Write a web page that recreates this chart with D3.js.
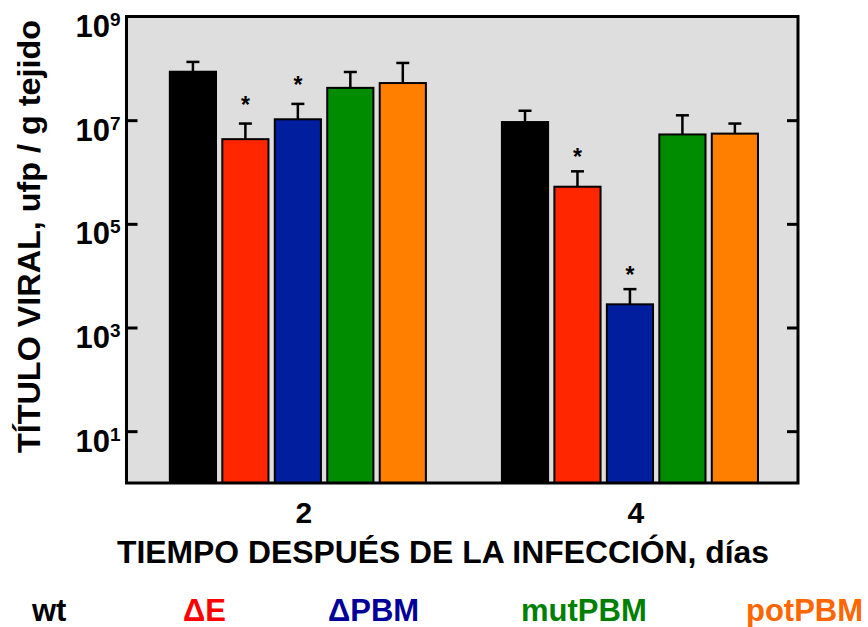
<!DOCTYPE html>
<html>
<head>
<meta charset="utf-8">
<script src="https://cdn.jsdelivr.net/npm/d3@7"></script>
<style>
  html, body { margin: 0; padding: 0; background: #ffffff; }
  svg { display: block; }
  text { font-family: "Liberation Sans", Arial, sans-serif; font-weight: bold; }
</style>
</head>
<body>
<svg id="chart" width="868" height="627"></svg>
<script>
// Days post infection (x groups) and virus strains (bars in each group)
const days = ["2", "4"];
const strains = ["wt", "ΔE", "ΔPBM", "mutPBM", "potPBM"];

// Mean viral titer (pfu / g tissue) per strain
const titerDay2 = [8.6e7, 4.3e6, 1.04e7, 4.2e7, 5.2e7];
const titerDay4 = [9.2e6, 5.2e5, 2.8e3, 5.3e6, 5.5e6];

// Upper error (standard deviation) per strain
const sdDay2 = [4.7e7, 4.3e6, 1.02e7, 4.3e7, 7.5e7];
const sdDay4 = [6.0e6, 5.1e5, 2.7e3, 7.1e6, 3.1e6];

// Significant difference versus wt
const signifDay2 = [false, true, true, false, false];
const signifDay4 = [false, true, true, false, false];

// Y axis decades
const yTickValues = [1e1, 1e3, 1e5, 1e7, 1e9];

// Colours
const barColors = ["#000000", "#ff2600", "#001e9e", "#008c00", "#ff7f00"];
const legendColors = ["#000000", "#ff0000", "#000099", "#008000", "#ff6600"];

const series = [
  { day: days[0], titer: titerDay2, sd: sdDay2, signif: signifDay2, starGap: 11 },
  { day: days[1], titer: titerDay4, sd: sdDay4, signif: signifDay4, starGap: 6 }
];

const svg = d3.select("#chart");
const plot = { left: 126.5, right: 798, top: 16.5, bottom: 483 };

const y = d3.scaleLog().domain([1, 1e9]).range([plot.bottom, plot.top]);
const x0 = d3.scaleBand().domain(days)
  .range([plot.left + 2, plot.right + 1.3]).paddingInner(0.21).paddingOuter(0.115);
const x1 = d3.scaleBand().domain(strains)
  .range([0, x0.bandwidth()]).paddingInner(0.12).paddingOuter(0.06);
const color = d3.scaleOrdinal().domain(strains).range(barColors);

// Plot background
svg.append("rect")
  .attr("x", plot.left).attr("y", plot.top)
  .attr("width", plot.right - plot.left).attr("height", plot.bottom - plot.top)
  .attr("fill", "#dedede");

// Bars with error bars
const groups = svg.append("g").selectAll("g")
  .data(series).join("g")
  .attr("transform", d => `translate(${x0(d.day)},0)`);

const items = groups.selectAll("g")
  .data(d => strains.map((s, i) => ({
    strain: s, value: d.titer[i], sd: d.sd[i], signif: d.signif[i], starGap: d.starGap
  })))
  .join("g");

const capW = 13;
items.append("line")
  .attr("x1", d => x1(d.strain) + x1.bandwidth() / 2)
  .attr("x2", d => x1(d.strain) + x1.bandwidth() / 2)
  .attr("y1", d => y(d.value))
  .attr("y2", d => y(d.value + d.sd))
  .attr("stroke", "#000").attr("stroke-width", 2.5);
items.append("line")
  .attr("x1", d => x1(d.strain) + x1.bandwidth() / 2 - capW / 2)
  .attr("x2", d => x1(d.strain) + x1.bandwidth() / 2 + capW / 2)
  .attr("y1", d => y(d.value + d.sd))
  .attr("y2", d => y(d.value + d.sd))
  .attr("stroke", "#000").attr("stroke-width", 2.5);

items.append("rect")
  .attr("x", d => x1(d.strain))
  .attr("width", x1.bandwidth())
  .attr("y", d => y(d.value))
  .attr("height", d => y(1) - y(d.value))
  .attr("fill", d => color(d.strain))
  .attr("stroke", "#000").attr("stroke-width", 2);

// Significance markers
items.filter(d => d.signif).append("text")
  .attr("x", d => x1(d.strain) + x1.bandwidth() / 2)
  .attr("y", d => y(d.value + d.sd) - d.starGap)
  .attr("text-anchor", "middle")
  .attr("font-size", 23)
  .attr("fill", "#000")
  .text("*");

// Left axis: inward ticks
const leftAxis = svg.append("g")
  .attr("transform", `translate(${plot.left},0)`)
  .call(d3.axisLeft(y).tickValues(yTickValues.filter(v => v < 1e9))
    .tickSize(-11).tickFormat(() => ""));
leftAxis.select(".domain").remove();
leftAxis.selectAll(".tick line").attr("stroke", "#000").attr("stroke-width", 3);

// Right axis: inward ticks
const rightAxis = svg.append("g")
  .attr("transform", `translate(${plot.right},0)`)
  .call(d3.axisRight(y).tickValues(yTickValues.filter(v => v < 1e9))
    .tickSize(-11).tickFormat(() => ""));
rightAxis.select(".domain").remove();
rightAxis.selectAll(".tick line").attr("stroke", "#000").attr("stroke-width", 3);

// Tick labels as powers of ten
const tickLabels = svg.append("g").selectAll("text")
  .data(yTickValues).join("text")
  .attr("x", plot.left - 6)
  .attr("y", d => y(d) + 20.5)
  .attr("text-anchor", "end")
  .attr("font-size", 31)
  .attr("fill", "#000");
tickLabels.append("tspan").text("10");
tickLabels.append("tspan")
  .attr("font-size", 19).attr("dy", -11)
  .text(d => Math.round(Math.log10(d)));

// Frame
svg.append("rect")
  .attr("x", plot.left).attr("y", plot.top)
  .attr("width", plot.right - plot.left).attr("height", plot.bottom - plot.top)
  .attr("fill", "none").attr("stroke", "#000").attr("stroke-width", 3);

// X group labels
svg.append("g").selectAll("text")
  .data(days).join("text")
  .attr("x", d => x0(d) + x0.bandwidth() / 2 + 6)
  .attr("y", 523)
  .attr("text-anchor", "middle")
  .attr("font-size", 30)
  .attr("fill", "#000")
  .text(d => d);

// Axis titles
svg.append("text")
  .attr("x", 117).attr("y", 563)
  .attr("font-size", 31)
  .attr("textLength", 652).attr("lengthAdjust", "spacingAndGlyphs")
  .attr("fill", "#000")
  .text("TIEMPO DESPUÉS DE LA INFECCIÓN, días");

svg.append("text")
  .attr("transform", "translate(40,236.5) rotate(-90)")
  .attr("text-anchor", "middle")
  .attr("font-size", 32)
  .attr("textLength", 433).attr("lengthAdjust", "spacingAndGlyphs")
  .attr("fill", "#000")
  .text("TÍTULO VIRAL, ufp / g tejido");

// Legend as coloured labels along the bottom
const legendX = [32, 183, 328, 521, 746];
svg.append("g").selectAll("text")
  .data(strains).join("text")
  .attr("x", (d, i) => legendX[i])
  .attr("y", 621)
  .attr("font-size", 31)
  .attr("fill", (d, i) => legendColors[i])
  .text(d => d);
</script>
</body>
</html>
